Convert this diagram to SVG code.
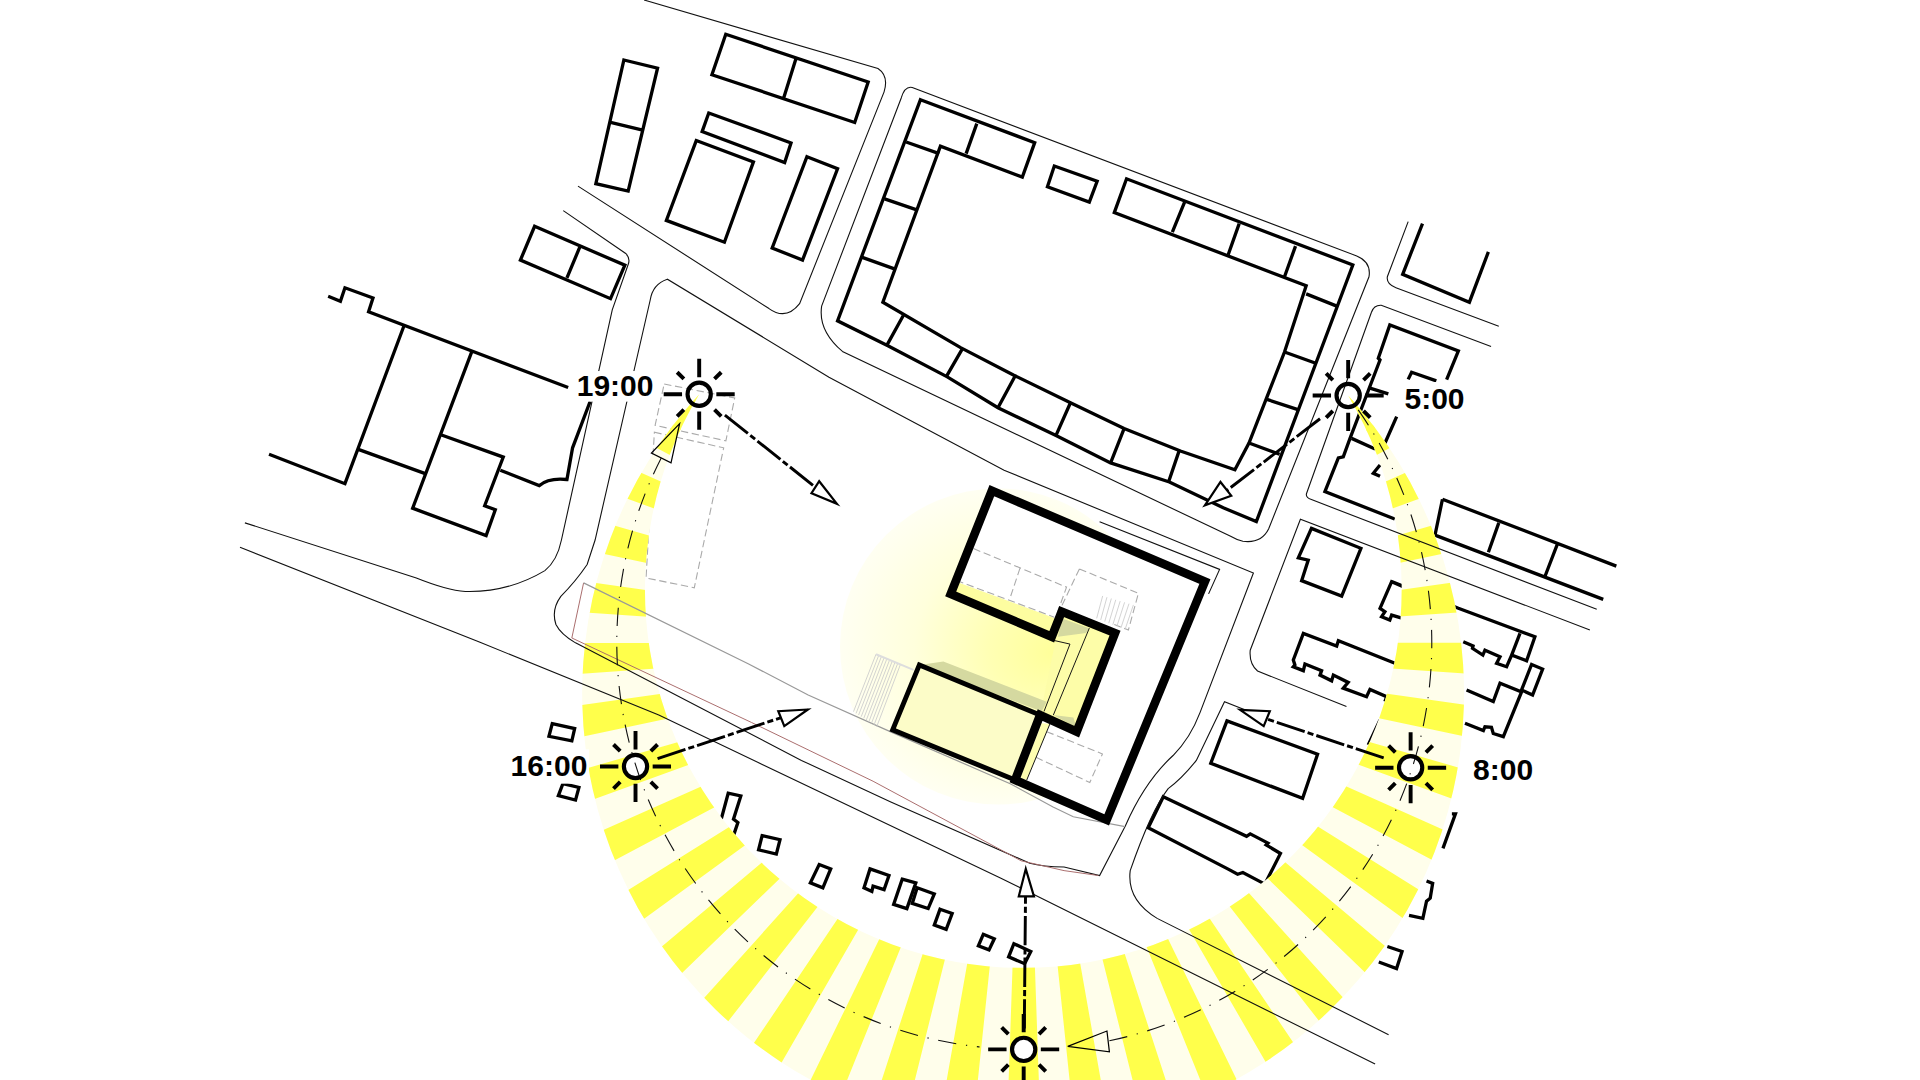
<svg xmlns="http://www.w3.org/2000/svg" xmlns:xlink="http://www.w3.org/1999/xlink" width="1920" height="1080" viewBox="0 0 1920 1080">
<style>
.b{fill:none;stroke:#000;stroke-width:2.7;stroke-linejoin:miter}
.r{fill:none;stroke:#111;stroke-width:.9}
.d{fill:none;stroke:#aaa;stroke-width:.9;stroke-dasharray:6 3}
.a{fill:none;stroke:#000;stroke-width:2.4;stroke-dasharray:24 2.5 5 2.5}
.h{fill:#fff;stroke:#000;stroke-width:1.8;stroke-linejoin:miter}
.t{fill:none;stroke:#000;stroke-width:1;stroke-linejoin:miter}
.l{font-family:"Liberation Sans",Arial,sans-serif;font-weight:700;font-size:24.5px;fill:#000}
</style>
<defs>
<radialGradient id="glow" gradientUnits="userSpaceOnUse" cx="815" cy="528" r="129" fx="860" fy="533">
<stop offset="0" stop-color="#ffff9a"/><stop offset=".3" stop-color="#ffffb4"/><stop offset=".65" stop-color="#ffffdc"/><stop offset="1" stop-color="#fffff2"/>
</radialGradient>
<clipPath id="cres"><path d="M571 322A360.1 360.1 0 1 0 1101 323A309 309 0 1 1 571 322Z"/></clipPath>
<g id="sun" fill="none" stroke="#000" stroke-width="3.2">
<circle r="9.5" stroke-width="3.4"/>
<path d="M14 0H29M-14 0H-29M0 14V29M0 -14V-29M12.5 12.5L18 18M-12.5 12.5L-18 18M12.5 -12.5L18 -18M-12.5 -12.5L-18 -18"/>
</g>
</defs>
<rect width="1920" height="1080" fill="#fff"/>
<g transform="scale(1.2245)">
<circle cx="815" cy="528" r="129" fill="url(#glow)"/>

<g id="buildings">
<path class="b" d="M509.5 49L537 55.7L513 156L486.6 150ZM498.6 100L524 106"/>
<path class="b" d="M592.7 28L709 67L698 100L581.4 61ZM650 48L640 80"/>
<path class="b" d="M578.8 92.3L646 116.7L640.8 132.8L573.4 107.5Z"/>
<path class="b" d="M568.6 114.8L615.3 132.2L591.6 197.8L544.2 180Z"/>
<path class="b" d="M659 128L684 137.8L655.4 212.4L630.6 202.5Z"/>
<path class="b" d="M436.6 184.8L510.3 216.6L498.6 243.9L425 212.4ZM473.8 201L463 227"/>
<path class="b" d="M268 242L278 246L281.7 235L304.6 243.3L301 254.6L464 316.5"/>
<path class="b" d="M219.7 371L281.7 395L330 265.8M292.6 367L347.3 386.8"/>
<path class="b" d="M385.6 286.4L337 415L397 437.4L404.5 416.3L395.8 413L411 373.3L360 355"/>
<path class="b" d="M408.6 384L440.3 396.6Q448 390 463 391.6L467.6 365.7L482 327.7"/>
<path class="b" d="M751.7 81.4L845 116.5L834.9 144.6L768 119.3L721 246.8L784.5 283.9L828 306.4L874.2 328.9L918 350L964 368.3L1008.5 383.7L1020 361.8L1034 326L1049 287.5L1066.7 233.3L910 173.6L920 146L1104.8 216.4L1026 426L999 414.7L955 393.6L907 378L862.4 355.6L815 333L773.6 307.8L725.5 282.5L684 262Z"/>
<path class="b" d="M740 116L767 125.5M722.4 162.4L748.7 171.4M703.6 210L731 219.8M797.7 101L789 125.5M737.7 257.7L724 282.5M786 284.7L772.7 307.8M829 307L815 333M874.2 328.9L862.4 355.6M918 350L907 378M963 368L954.3 393.6M1020 361.8L1045 371M1034 326L1060 334.5M1049 287.5L1074 296.5M1066.7 240L1091.7 250M967.4 165L957.4 189.6M1012 182.6L1003 208M1058 201L1049 226"/>
<path class="b" d="M861 135.6L896 148L889.6 165L855.4 152.5Z"/>
<path class="b" d="M1161.7 182.6L1145.5 224L1200 246.8L1215.5 205.7"/>
<path class="b" d="M1181.4 310L1191 286.6L1135 265.4L1125.6 292.6L1127 294L1102.5 358L1097 373L1093 374L1082 401.5L1139 423.8"/>
<path class="b" d="M1173 311L1152.8 304L1150 309.8M1118.8 317L1133.8 321.7M1140.6 340.2L1131 362M1103.8 358L1123 366.6M1127 379.7L1121.5 386.5L1127 389"/>
<path class="b" d="M1178 407.7L1320 462.3M1178 407.7L1171.9 437L1309.3 489.5M1224 427L1215.5 451M1272 444L1262 470"/>
<path class="b" d="M1071 431.5L1111.4 447.8L1095.7 486.8L1063 474.2L1068.4 457.4L1060.3 455.5Z"/>
<path class="b" d="M1145.5 479L1136.5 475L1127 496.8L1131 499.6L1128.3 503.6L1135 506.4L1136.5 502.3L1145.5 505M1136.5 475L1191 496.8L1253.5 520L1246.7 539.6L1234.5 535L1241.3 517.3M1195 524L1203 527.6L1202.5 529.5L1211 535L1212.7 531L1225 536.3L1222.2 541.7L1230.4 544.5L1234.5 535"/>
<path class="b" d="M1139.2 541.7L1093 523.2L1091.6 527.6L1064.4 517.3L1056.2 539L1057.5 543L1056.2 544.5L1064.4 547.7L1065.7 542.3L1079.3 547.7L1078 551.3L1087.5 556L1088.9 551.3L1101 557.3L1097 562L1116 569L1118.8 563L1132.4 569L1131 573"/>
<path class="b" d="M1197.7 563.5L1219.5 573L1225 558L1242.6 565L1227.7 601.6L1219.5 599L1218 594L1212.7 593.5L1211.4 596.7L1196.4 590.7"/>
<path class="b" d="M1250.8 542.6L1259.8 546.4L1251.6 567.6L1242.6 563.5Z"/>
<path class="b" d="M1127 588L1117.4 608.4M1127 588L1135 590"/>
<path class="b" d="M1185.7 664.6L1188.6 664.6L1178.4 692.8"/>
<path class="b" d="M1165 719.5L1170 721.4L1168 733.5L1165 736L1162 750L1150.7 747.6"/>
<path class="b" d="M1133 773L1145 777L1140.5 791L1126 785.6"/>
<path class="b" d="M1002 588.7L1076 616L1063.8 652L988.8 623.3Z"/>
<path class="b" d="M950 650.6L1018 683L1021 681L1035.5 688.5L1034 690L1045.7 697L1033 722L1015 712.5L1010.7 714L1003.4 710L937.7 676Z"/>
<path class="b" d="M451 591L469.3 595L467 605L448.3 601.3Z"/>
<path class="b" d="M459.7 640L472.8 643L470 653.4L456 649.7Z"/>
<path class="b" d="M589 669L594.7 647.8L605 650L599 669L602.6 671.7L599 682.4"/>
<path class="b" d="M622.4 682.4L637 685.7L634 697.5L619.5 694Z"/>
<path class="b" d="M669 706L678.4 709.6L672 725L661.8 721Z"/>
<path class="b" d="M710.5 709.6L726 715L722 726.5L713 723.7L712 728L705.6 725Z"/>
<path class="b" d="M736.8 718L747.9 721L740.6 742L729.8 738.6Z"/>
<path class="b" d="M749 725L763 730L758 742L745 737.8Z"/>
<path class="b" d="M767.7 742.5L777.6 746L772.7 759L763 755.5Z"/>
<path class="b" d="M803 763L812 766.7L807.7 775.7L799 772.4Z"/>
<path class="b" d="M828 770.7L841.8 777L836.8 787L823.7 781.4Z"/>
<path class="b" d="M855 793L866 796"/>
</g>

<path class="d" d="M542.4 313.6L600 325L592.8 360L535 347.4Z"/>
<path class="d" d="M534.4 353L591 365.7L567 480L527.6 472Z"/>

<g id="band">
<path d="M571 322A360.1 360.1 0 1 0 1101 323A309 309 0 1 1 571 322Z" fill="#fffeeb"/>
<g clip-path="url(#cres)">
<circle cx="836" cy="525" r="332" fill="none" stroke="#ffff4b" stroke-width="180" pathLength="360" stroke-dasharray="4 4"/>
<polygon points="836,525 495,316 514,287" fill="#ffff4b"/>
<polygon points="836,525 1158,287 1177,316" fill="#ffff4b"/>
</g>
</g>

<g id="roads">
<path class="r" d="M526 0L717 56Q726 62 722 75L653 248Q642 262 628 252L472 152"/>
<path class="r" d="M460 172L511 207Q515 211 513 216L500 253L458.5 441Q455 458 445 466Q415 484 380 483Q365 482 340 472L200 427"/>
<path class="r" d="M196 447L392 524.5L538 584L817 717L1123 869"/>
<path class="r" d="M545 228Q533 232 531 245L486 441L479.5 461Q470 475 458 487Q450 498 454 510Q458 518 470 525L654.5 621L727.5 655L841 705Q852 708 869 708L898 715L919 674.5Q935 638 958 617Q972 603 980 582L1023.6 468L820 384L677 308L545 228Z"/>
<path class="r" d="M898 426L996 465L987 485"/>
<path class="r" d="M1030 585L1000 573L977 621Q965 636 954 644Q940 662 923 711Q920 735 945 750L1134 845"/>
<path class="r" d="M745 71.5L1108 209Q1120 214 1118 226L1036 432Q1030 444 1015 442Q1010 441 1005 438L688 287Q668 270 671 250L736 80Q739 70 745 71.5Z"/>
<path class="r" d="M1150 181L1133 226Q1132 232 1140 235L1224 266.5"/>
<path class="r" d="M1217.7 283L1128 249.3Q1122 249 1120 255L1067 403Q1066 406 1071 408L1304 497.6"/>
<path class="r" d="M1099.6 577L1027 548Q1020 542 1021 531L1062 424L1298.4 514.5"/>
<path d="M476.6 476L467 521L613.7 590L713 638L834 703L869 711L897 715" fill="none" stroke="#a86a6a" stroke-width=".8"/>
<path d="M476.6 476L611 542L660 567.6L727 597.5L825 640L860 659L876.5 667L918.8 675" fill="none" stroke="#999" stroke-width="1"/>
</g>

<g id="main-building">
<path d="M810 400.7L984 475L903.8 669.6L829 637L849.4 584L879.3 597.5L910.6 517L867 499.5L858.9 520L776.4 485Z" fill="#fff"/>
<path d="M781 475L861.6 505L858.9 520L776.4 485Z" fill="#fdfda0"/>
<path d="M867 499.5L910.6 517L879.3 597.5L849.4 584Z" fill="#fdfda8"/>
<path d="M750.8 543L849.4 584L829 637L729 596Z" fill="#fcfcc8"/>
<path d="M850.7 590.7L857.5 591L838.5 637L833 635.6Z" fill="#fdfdb0"/>
<path d="M867 505L889.6 513L887 517L864 520Z" fill="#d5d9a0"/>
<path d="M750.8 543L770.4 540.3L854.8 573L850.7 581Z" fill="#d5d9a0"/>
<path d="M876.6 586L879 594L860 584Z" fill="#d5d9a0"/>
<path class="d" d="M795 448L871 479.5L864 499M781 474L861 504M833 464L825 488"/>
<path class="d" d="M881.5 464.6L929.7 484.5L921.5 514.5L910 510M881.5 464.6L867 495"/>
<path class="d" d="M854.8 597.5L900.3 615.7L890 639L845 618"/>
<path d="M900.5 486.7L895.6 505M904 487.7L898.9 506.3M907.6 488.8L902.2 507.6M911.2 489.8L905.5 508.9M914.8 490.9L908.8 510.2M918.4 491.9L912.1 511.5M922 493L915.4 512.8M925.6 494L918.8 514" fill="none" stroke="#ccc" stroke-width=".7"/>
<path d="M715.4 534.3L697 581.2M717.6 535.3L699.1 582.6M719.8 536.2L701.2 583.9M722 537.2L703.3 585.3M724.2 538.2L705.4 586.6M726.4 539.2L707.5 588M728.6 540.1L709.6 589.3M730.8 541.1L711.7 590.7M733 542.1L713.8 592M735.2 543L716 593.4" fill="none" stroke="#ccc" stroke-width=".7"/>
<path d="M715.4 534.3L746 547" fill="none" stroke="#ddd" stroke-width="1.6"/>
<path d="M858.9 522.6L873.8 526L852.6 581M889.6 513L860.2 584M857.5 591L838.5 637" fill="none" stroke="#111" stroke-width=".8"/>
<path d="M810 400.7L984 475L903.8 669.6L829 637L849.4 584L879.3 597.5L910.6 517L867 499.5L858.9 520L776.4 485Z" fill="none" stroke="#000" stroke-width="7"/>
<path d="M849.4 584L750.8 543L729 596L829 637" fill="none" stroke="#000" stroke-width="4"/>
</g>

<rect x="468" y="303" width="68" height="25" fill="#fff"/>
<rect x="1143" y="312" width="60" height="26" fill="#fff"/>
<rect x="414" y="612" width="67" height="28" fill="#fff"/>

<g id="connectors">
<circle cx="519" cy="626" r="9.5" fill="#fff"/>
<circle cx="1152" cy="627" r="9.5" fill="#fff"/>
<path d="M540 374A332 332 0 0 0 800 855M906 850A332 332 0 0 0 1108 333" fill="none" stroke="#111" stroke-width=".9" stroke-dasharray="15 8 1 8"/>
<path d="M555 346L532 370L548 378Z" class="t"/>
<path d="M872 854.5L904 842L906 859Z" class="t"/>
<path class="a" d="M592 339L666 398"/>
<path class="a" d="M1078 342L1000 402"/>
<path class="a" d="M537 619.6L638 586"/>
<path class="a" d="M1130 619L1034 587"/>
<path class="a" d="M836.5 840L837.5 732"/>
<path class="h" d="M683.5 411.5L669 393L662.7 402.8Z"/>
<path class="h" d="M984 412.7L996.7 393.6L1005.5 404.8Z"/>
<path class="h" d="M659.8 579.4L635.6 580.8L640.5 593Z"/>
<path class="h" d="M1012.7 579.7L1037 580.8L1032 593Z"/>
<path class="h" d="M837.7 709.6L832 732L844.4 732Z"/>
</g>

<g id="suns">
<use xlink:href="#sun" href="#sun" x="571" y="322"/>
<use xlink:href="#sun" href="#sun" x="1101" y="323"/>
<use xlink:href="#sun" href="#sun" x="519" y="626"/>
<use xlink:href="#sun" href="#sun" x="1152" y="627"/>
<circle cx="836" cy="857" r="9.5" fill="#fff"/>
<use xlink:href="#sun" href="#sun" x="836" y="857"/>
</g>

<g id="labels">
<text class="l" x="471" y="323">19:00</text>
<text class="l" x="1147" y="334">5:00</text>
<text class="l" x="417" y="634">16:00</text>
<text class="l" x="1203" y="637">8:00</text>
</g>
</g>
</svg>
